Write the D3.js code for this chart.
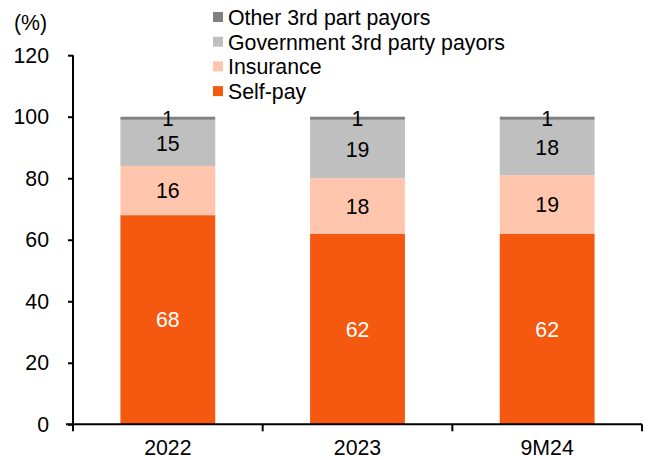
<!DOCTYPE html>
<html>
<head>
<meta charset="utf-8">
<script src="https://cdn.jsdelivr.net/npm/d3@7"></script>
<style>
  html, body { margin: 0; padding: 0; background: #fff; }
  svg { display: block; font-family: "Liberation Sans", Arial, sans-serif; }
</style>
</head>
<body>
<svg id="chart" width="651" height="460"></svg>
<script>
// ---- data ----
const categories = ["2022", "2023", "9M24"];
const seriesNames = ["Self-pay", "Insurance", "Government 3rd party payors", "Other 3rd part payors"];
const selfPay   = [68, 62, 62];
const insurance = [16, 18, 19];
const government = [15, 19, 18];
const other     = [1, 1, 1];
const yTicks = [0, 20, 40, 60, 80, 100, 120];
const colors = ["#F4590F", "#FFC6AD", "#BFBFBF", "#808080"];
const labelColors = ["#ffffff", "#000000", "#000000", "#000000"];

const FS = 21.3;

// ---- build table ----
const seriesValues = [selfPay, insurance, government, other];
const table = categories.map((c, i) => {
  const row = { cat: c };
  seriesNames.forEach((s, j) => row[s] = seriesValues[j][i]);
  return row;
});
const stacked = d3.stack().keys(seriesNames)(table);

const svg = d3.select("#chart");
const mLeft = 73, mRight = 642, mTop = 55.2, mBottom = 424.3;

const x = d3.scaleBand().domain(categories).range([mLeft, mRight])
  .paddingInner(0.5).paddingOuter(0.25);
const y = d3.scaleLinear().domain([0, 120]).range([mBottom, mTop]);

// bars
const layers = svg.append("g").selectAll("g").data(stacked).join("g")
  .attr("fill", (d, i) => colors[i]);
layers.selectAll("rect").data(d => d).join("rect")
  .attr("x", d => x(d.data.cat))
  .attr("width", x.bandwidth())
  .attr("y", d => y(d[1]))
  .attr("height", d => y(d[0]) - y(d[1]));

// labels
const labelLayers = svg.append("g").selectAll("g").data(stacked).join("g")
  .attr("fill", (d, i) => labelColors[i]);
labelLayers.selectAll("text").data(d => d).join("text")
  .attr("x", d => x(d.data.cat) + x.bandwidth() / 2)
  .attr("y", d => y((d[0] + d[1]) / 2))
  .attr("text-anchor", "middle")
  .attr("dy", "0.36em")
  .attr("font-size", FS)
  .text(d => d[1] - d[0]);

// y axis
const yAxis = svg.append("g").attr("transform", `translate(${mLeft},0)`)
  .call(d3.axisLeft(y).tickValues(yTicks).tickSize(5).tickPadding(19).tickSizeOuter(0));
yAxis.select(".domain").attr("stroke", "#000").attr("stroke-width", 2)
  .attr("d", `M0,${y(120)}V${y(0)}`);
yAxis.selectAll(".tick line").attr("stroke", "#000").attr("stroke-width", 2);
yAxis.selectAll(".tick text").attr("font-size", FS).attr("fill", "#000")
  .attr("font-family", "Liberation Sans, Arial, sans-serif");

// x axis
const xAxis = svg.append("g").attr("transform", `translate(0,${mBottom})`)
  .call(d3.axisBottom(x).tickSize(0).tickPadding(16).tickSizeOuter(0));
xAxis.select(".domain").attr("stroke", "#000").attr("stroke-width", 2)
  .attr("d", `M${mLeft - 7},0H${mRight}`);
xAxis.selectAll(".tick text").attr("font-size", FS).attr("fill", "#000")
  .attr("font-family", "Liberation Sans, Arial, sans-serif");
const step = x.step();
const boundaries = d3.range(categories.length + 1).map(i => x.range()[0] + i * step);
xAxis.selectAll(".bnd").data(boundaries).join("line")
  .attr("class", "bnd")
  .attr("x1", d => d).attr("x2", d => d)
  .attr("y1", 0).attr("y2", 7)
  .attr("stroke", "#000").attr("stroke-width", 2);

// unit label
svg.append("text").attr("x", 14).attr("y", 29.5)
  .attr("font-size", FS).attr("fill", "#000").text("(%)");

// legend (top to bottom: reverse of stack order)
const legendOrder = seriesNames.map((s, i) => i).reverse();
const lg = svg.append("g").selectAll("g").data(legendOrder).join("g")
  .attr("transform", (d, i) => `translate(213,${12 + i * 24.7})`);
lg.append("rect").attr("width", 10).attr("height", 10)
  .attr("fill", d => colors[d]);
lg.append("text").attr("x", 15).attr("y", 13)
  .attr("font-size", FS).attr("fill", "#000")
  .text(d => seriesNames[d]);
</script>
</body>
</html>
